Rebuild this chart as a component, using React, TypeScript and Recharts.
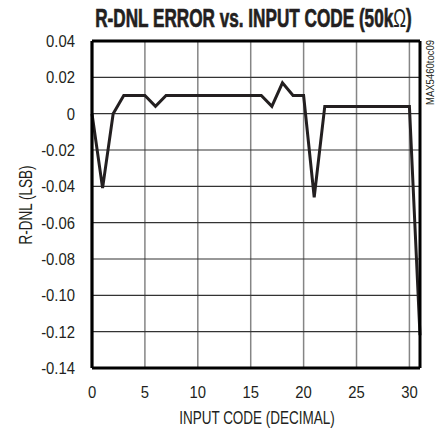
import React from 'react';
import { LineChart, Line, XAxis, YAxis, CartesianGrid, ReferenceLine } from 'recharts';

const codes = [0, 1, 2, 3, 4, 5, 6, 7, 8, 9, 10, 11, 12, 13, 14, 15, 16, 17, 18, 19, 20, 21, 22, 23, 24, 25, 26, 27, 28, 29, 30, 31];
const rdnl = [0, -0.041, 0, 0.01, 0.01, 0.01, 0.004, 0.01, 0.01, 0.01, 0.01, 0.01, 0.01, 0.01, 0.01, 0.01, 0.01, 0.004, 0.017, 0.01, 0.01, -0.046, 0.004, 0.004, 0.004, 0.004, 0.004, 0.004, 0.004, 0.004, 0.004, -0.122];
const xTicks = [0, 5, 10, 15, 20, 25, 30];
const yTicks = [0.04, 0.02, 0, -0.02, -0.04, -0.06, -0.08, -0.1, -0.12, -0.14];

const titleText = 'R-DNL ERROR vs. INPUT CODE (50k';
const xLabel = 'INPUT CODE (DECIMAL)';
const yLabel = 'R-DNL (LSB)';
const sideNote = 'MAX5460toc09';

const data = codes.map((c, i) => ({ code: c, v: rdnl[i] }));

const FONT = '"Liberation Sans", Arial, sans-serif';
const INK = '#231f20';
const TICK_SIZE = 16.5;
const TICK_SX = 0.9;
const LABEL_SIZE = 18.5;
const LABEL_SX = 0.73;

const fmtY = (v: number) => (Math.abs(v) < 1e-9 ? '0' : v.toFixed(2));

const XTick = (props: any) => {
  const { x, y, payload } = props;
  return (
    <g transform={`translate(${x},${y})`}>
      <text transform={`scale(${TICK_SX},1)`} textAnchor="middle" dy="0.71em" fontFamily={FONT} fontSize={TICK_SIZE} fill={INK}>
        {String(payload.value)}
      </text>
    </g>
  );
};

const YTick = (props: any) => {
  const { x, y, payload } = props;
  return (
    <g transform={`translate(${x},${y})`}>
      <text transform={`scale(${TICK_SX},1)`} textAnchor="end" dy="0.355em" fontFamily={FONT} fontSize={TICK_SIZE} fill={INK}>
        {fmtY(payload.value)}
      </text>
    </g>
  );
};

export default function App() {
  return (
    <div style={{ position: 'absolute', left: 0, top: 0, width: 439, height: 430, background: '#fff' }}>
      <LineChart
        width={439}
        height={430}
        data={data}
        margin={{ top: 41, right: 19, bottom: 0, left: 0 }}
      >
        <CartesianGrid horizontal={false} stroke="#858585" strokeWidth={1.5} />
        <CartesianGrid vertical={false} stroke="#333333" strokeWidth={1.2} />
        <XAxis
          dataKey="code"
          type="number"
          domain={[0, 31]}
          ticks={xTicks}
          interval={0}
          height={62}
          axisLine={false}
          tickLine={false}
          tickSize={0}
          tickMargin={18}
          tick={XTick}
        />
        <YAxis
          type="number"
          domain={[-0.14, 0.04]}
          ticks={yTicks}
          interval={0}
          width={92}
          axisLine={false}
          tickLine={false}
          tickSize={0}
          tickMargin={17}
          tick={YTick}
        />
        <Line
          type="linear"
          dataKey="v"
          stroke={INK}
          strokeWidth={3}
          dot={false}
          isAnimationActive={false}
        />
        <ReferenceLine x={0} stroke="#000" strokeWidth={3.2} />
        <ReferenceLine x={31} stroke="#000" strokeWidth={3} />
        <ReferenceLine y={0.04} stroke="#000" strokeWidth={3.2} />
        <ReferenceLine y={-0.14} stroke="#000" strokeWidth={3.2} />
      </LineChart>
      <svg
        width={439}
        height={430}
        style={{ position: 'absolute', left: 0, top: 0, pointerEvents: 'none' }}
      >
        <text
          transform="translate(253.5,27) scale(0.66,1)"
          textAnchor="middle"
          fontFamily={FONT}
          fontWeight="bold"
          fontSize={26}
          fill={INK}
          stroke={INK}
          strokeWidth={0.7}
        >
          {titleText}
          <tspan fontWeight="normal" strokeWidth={0}>Ω</tspan>
          )
        </text>
        <text transform={`translate(257,424) scale(${LABEL_SX},1)`} textAnchor="middle" fontFamily={FONT} fontSize={LABEL_SIZE} fill={INK}>
          {xLabel}
        </text>
        <text
          transform={`translate(32,205) rotate(-90) scale(${LABEL_SX},1)`}
          textAnchor="middle"
          fontFamily={FONT}
          fontSize={LABEL_SIZE}
          fill={INK}
        >
          {yLabel}
        </text>
        <text
          transform="translate(434,72.5) rotate(-90) scale(0.95,1)"
          textAnchor="middle"
          fontFamily={FONT}
          fontSize={10}
          fill={INK}
        >
          {sideNote}
        </text>
      </svg>
    </div>
  );
}
